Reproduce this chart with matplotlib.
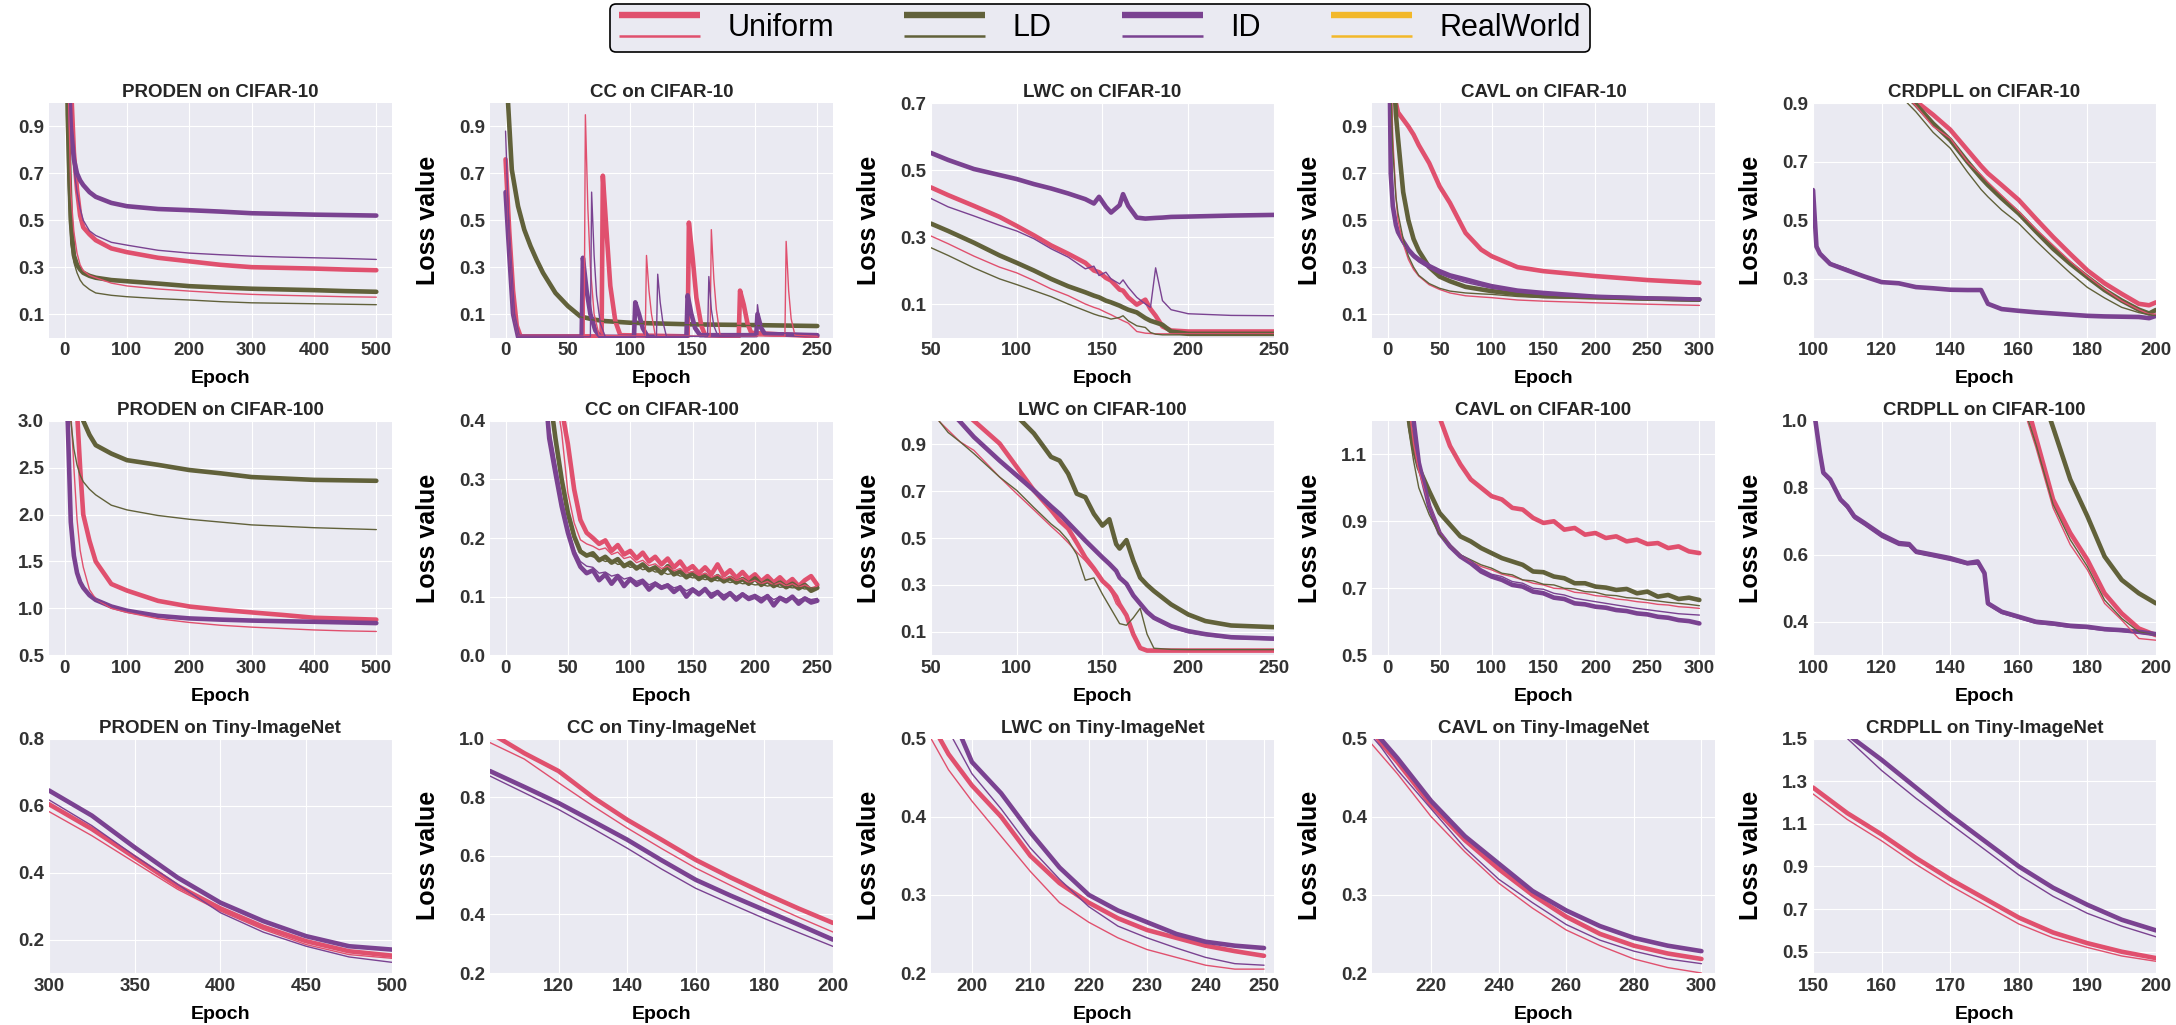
#curvas de perdida por metodo y dataset

import numpy as np
import matplotlib.pyplot as plt
from matplotlib.lines import Line2D
from matplotlib.legend_handler import HandlerBase

# ---------------- datos ----------------
# PRODEN on CIFAR-10
proden10_ep = [0, 5, 10, 15, 20, 25, 30, 40, 50, 75, 100, 150, 200, 250, 300, 350, 400, 450, 500]
proden10_uni = [2.5, 2.0, 1.1, 0.79, 0.63, 0.52, 0.47, 0.44, 0.415, 0.38, 0.364, 0.34, 0.325, 0.31, 0.30, 0.297, 0.294, 0.29, 0.287]
proden10_uni_t = [2.0, 1.2, 0.62, 0.45, 0.36, 0.31, 0.285, 0.265, 0.255, 0.232, 0.22, 0.207, 0.198, 0.19, 0.184, 0.18, 0.177, 0.174, 0.172]
proden10_ld = [2.0, 0.95, 0.5, 0.35, 0.31, 0.29, 0.276, 0.263, 0.255, 0.245, 0.24, 0.23, 0.219, 0.213, 0.208, 0.205, 0.202, 0.198, 0.195]
proden10_ld_t = [2.0, 0.7, 0.40, 0.32, 0.276, 0.245, 0.226, 0.205, 0.19, 0.18, 0.174, 0.166, 0.16, 0.153, 0.148, 0.146, 0.144, 0.142, 0.14]
proden10_id = [2.0, 1.25, 0.9, 0.76, 0.70, 0.67, 0.65, 0.62, 0.60, 0.574, 0.56, 0.548, 0.543, 0.537, 0.53, 0.527, 0.524, 0.522, 0.52]
proden10_id_t = [2.0, 1.2, 0.88, 0.72, 0.62, 0.55, 0.50, 0.455, 0.435, 0.406, 0.394, 0.372, 0.36, 0.353, 0.347, 0.343, 0.34, 0.337, 0.333]

# CC on CIFAR-10 (picos)
cc10_ld_ep = [0, 2, 5, 10, 15, 20, 25, 30, 40, 50, 60, 70, 80, 100, 150, 200, 250]
cc10_ld = [1.3, 1.0, 0.716, 0.56, 0.46, 0.39, 0.33, 0.276, 0.19, 0.134, 0.09, 0.077, 0.07, 0.063, 0.056, 0.053, 0.049]
cc10_ld_t = [1.3, 0.98, 0.70, 0.55, 0.45, 0.38, 0.32, 0.27, 0.185, 0.13, 0.088, 0.075, 0.068, 0.061, 0.054, 0.051, 0.047]
cc10_uni_ep = [0, 3, 6, 9, 12, 77, 78, 81, 84, 88, 92, 146, 147, 150, 153, 157, 160, 187, 188, 191, 194, 197, 250]
cc10_uni = [0.76, 0.45, 0.2, 0.05, 0.005, 0.005, 0.69, 0.45, 0.22, 0.07, 0.01, 0.005, 0.49, 0.34, 0.17, 0.05, 0.01, 0.005, 0.20, 0.14, 0.06, 0.02, 0.005]
cc10_uni_t_ep = [0, 3, 6, 10, 63, 64, 66, 68, 71, 75, 112, 113, 115, 117, 120, 164, 165, 167, 169, 172, 224, 225, 227, 229, 232, 250]
cc10_uni_t = [0.76, 0.4, 0.1, 0.005, 0.005, 0.95, 0.55, 0.3, 0.1, 0.01, 0.005, 0.35, 0.2, 0.1, 0.01, 0.005, 0.46, 0.25, 0.12, 0.01, 0.005, 0.41, 0.2, 0.08, 0.01, 0.005]
cc10_id_ep = [0, 3, 6, 10, 61, 62, 65, 68, 72, 76, 103, 104, 107, 110, 114, 145, 146, 149, 152, 156, 201, 202, 205, 208, 250]
cc10_id = [0.62, 0.35, 0.1, 0.003, 0.003, 0.34, 0.2, 0.1, 0.03, 0.003, 0.003, 0.15, 0.1, 0.04, 0.003, 0.003, 0.18, 0.1, 0.04, 0.01, 0.01, 0.10, 0.04, 0.015, 0.01]
cc10_id_t_ep = [0, 3, 6, 10, 68, 69, 71, 73, 76, 80, 121, 122, 124, 126, 129, 162, 163, 165, 167, 170, 201, 202, 204, 207, 250]
cc10_id_t = [0.88, 0.4, 0.1, 0.003, 0.003, 0.62, 0.35, 0.18, 0.06, 0.003, 0.003, 0.27, 0.15, 0.07, 0.005, 0.005, 0.26, 0.12, 0.05, 0.01, 0.01, 0.14, 0.06, 0.02, 0.015]

# LWC on CIFAR-10
lwc10_ep = [50, 60, 75, 90, 100, 110, 120, 130, 140, 145, 148, 152, 155, 160, 162, 165, 170, 175, 178, 181, 185, 190, 200, 225, 250]
lwc10_id = [0.551, 0.53, 0.503, 0.485, 0.473, 0.458, 0.445, 0.43, 0.413, 0.40, 0.42, 0.39, 0.373, 0.395, 0.428, 0.393, 0.358, 0.355, 0.356, 0.357, 0.358, 0.36, 0.361, 0.364, 0.366]
lwc10_id_t = [0.415, 0.39, 0.363, 0.335, 0.318, 0.295, 0.265, 0.24, 0.205, 0.213, 0.185, 0.195, 0.175, 0.16, 0.172, 0.15, 0.12, 0.10, 0.09, 0.208, 0.11, 0.083, 0.071, 0.066, 0.065]
lwc10_uni = [0.448, 0.425, 0.393, 0.36, 0.333, 0.305, 0.275, 0.25, 0.223, 0.20, 0.195, 0.178, 0.17, 0.143, 0.14, 0.12, 0.098, 0.113, 0.085, 0.065, 0.033, 0.021, 0.018, 0.018, 0.018]
lwc10_uni_t = [0.303, 0.28, 0.243, 0.21, 0.193, 0.17, 0.145, 0.125, 0.1, 0.09, 0.085, 0.075, 0.068, 0.055, 0.05, 0.043, 0.018, 0.013, 0.012, 0.011, 0.011, 0.011, 0.011, 0.011, 0.011]
lwc10_ld = [0.34, 0.318, 0.283, 0.245, 0.223, 0.2, 0.175, 0.153, 0.135, 0.125, 0.12, 0.11, 0.105, 0.095, 0.09, 0.083, 0.075, 0.058, 0.05, 0.045, 0.038, 0.018, 0.011, 0.011, 0.011]
lwc10_ld_t = [0.268, 0.245, 0.208, 0.175, 0.158, 0.14, 0.122, 0.1, 0.08, 0.07, 0.065, 0.06, 0.055, 0.06, 0.065, 0.05, 0.035, 0.03, 0.015, 0.01, 0.008, 0.008, 0.008, 0.008, 0.008]

# CAVL on CIFAR-10
cavl10_ep = [0, 3, 5, 8, 10, 15, 20, 25, 30, 40, 50, 60, 75, 90, 100, 125, 150, 200, 250, 300]
cavl10_uni = [2.0, 1.5, 1.2, 1.0, 0.96, 0.93, 0.9, 0.865, 0.82, 0.744, 0.645, 0.574, 0.446, 0.375, 0.347, 0.30, 0.283, 0.262, 0.245, 0.233]
cavl10_uni_t = [2.0, 1.2, 0.85, 0.6, 0.5, 0.4, 0.333, 0.29, 0.262, 0.225, 0.205, 0.19, 0.178, 0.173, 0.17, 0.16, 0.155, 0.148, 0.142, 0.137]
cavl10_ld = [2.0, 1.5, 1.2, 0.95, 0.85, 0.62, 0.50, 0.42, 0.37, 0.30, 0.26, 0.24, 0.216, 0.205, 0.198, 0.185, 0.177, 0.172, 0.166, 0.162]
cavl10_ld_t = [2.0, 1.1, 0.8, 0.6, 0.53, 0.42, 0.347, 0.3, 0.265, 0.23, 0.21, 0.198, 0.19, 0.186, 0.184, 0.175, 0.17, 0.165, 0.16, 0.155]
cavl10_id = [2.0, 0.7, 0.56, 0.48, 0.45, 0.41, 0.375, 0.35, 0.333, 0.305, 0.283, 0.265, 0.248, 0.23, 0.219, 0.2, 0.19, 0.174, 0.167, 0.162]
cavl10_id_t = [2.0, 0.68, 0.55, 0.47, 0.44, 0.40, 0.365, 0.34, 0.322, 0.295, 0.272, 0.255, 0.235, 0.22, 0.21, 0.195, 0.183, 0.17, 0.163, 0.158]

# CRDPLL on CIFAR-10
crd10_ep = [100, 101, 102, 105, 110, 115, 120, 125, 130, 135, 140, 145, 149, 151, 155, 160, 165, 170, 175, 180, 185, 190, 195, 198, 200]
crd10_id = [0.603, 0.41, 0.386, 0.351, 0.329, 0.308, 0.289, 0.285, 0.272, 0.268, 0.263, 0.262, 0.262, 0.215, 0.197, 0.191, 0.186, 0.182, 0.178, 0.174, 0.172, 0.171, 0.17, 0.166, 0.174]
crd10_id_t = [0.6, 0.42, 0.39, 0.355, 0.335, 0.31, 0.292, 0.282, 0.27, 0.266, 0.262, 0.262, 0.26, 0.212, 0.198, 0.19, 0.185, 0.181, 0.178, 0.175, 0.173, 0.17, 0.168, 0.168, 0.172]
crd10_uni = [1.55, 1.54, 1.52, 1.45, 1.33, 1.2, 1.08, 0.98, 0.906, 0.86, 0.809, 0.74, 0.685, 0.66, 0.62, 0.569, 0.505, 0.443, 0.385, 0.329, 0.285, 0.249, 0.215, 0.21, 0.22]
crd10_uni_t = [1.5, 1.49, 1.47, 1.4, 1.28, 1.15, 1.03, 0.95, 0.89, 0.82, 0.78, 0.70, 0.655, 0.63, 0.585, 0.53, 0.47, 0.415, 0.36, 0.31, 0.265, 0.225, 0.195, 0.18, 0.18]
crd10_ld = [1.5, 1.49, 1.47, 1.4, 1.28, 1.15, 1.03, 0.95, 0.895, 0.83, 0.774, 0.70, 0.645, 0.62, 0.575, 0.523, 0.462, 0.403, 0.352, 0.306, 0.262, 0.226, 0.195, 0.182, 0.194]
crd10_ld_t = [1.45, 1.44, 1.42, 1.35, 1.24, 1.12, 1.0, 0.93, 0.87, 0.80, 0.746, 0.665, 0.605, 0.58, 0.535, 0.489, 0.43, 0.374, 0.32, 0.271, 0.235, 0.203, 0.185, 0.178, 0.174]

# PRODEN on CIFAR-100
proden100_ep = [0, 5, 10, 15, 20, 25, 30, 40, 50, 75, 100, 150, 200, 250, 300, 350, 400, 450, 500]
proden100_ld = [5.0, 4.5, 4.0, 3.6, 3.3, 3.12, 3.0, 2.85, 2.74, 2.65, 2.58, 2.53, 2.475, 2.44, 2.40, 2.385, 2.37, 2.365, 2.36]
proden100_ld_t = [5.0, 3.6, 3.0, 2.7, 2.53, 2.42, 2.35, 2.27, 2.21, 2.10, 2.05, 1.99, 1.95, 1.92, 1.89, 1.875, 1.86, 1.85, 1.84]
proden100_uni = [5.0, 4.5, 4.0, 3.6, 3.1, 2.5, 2.0, 1.72, 1.5, 1.26, 1.19, 1.08, 1.02, 0.985, 0.957, 0.93, 0.90, 0.89, 0.88]
proden100_uni_t = [5.0, 4.0, 3.1, 2.5, 1.95, 1.62, 1.44, 1.2, 1.1, 1.0, 0.957, 0.89, 0.85, 0.82, 0.80, 0.785, 0.77, 0.76, 0.754]
proden100_id = [5.0, 3.0, 1.92, 1.56, 1.38, 1.28, 1.22, 1.14, 1.09, 1.02, 0.975, 0.92, 0.893, 0.88, 0.87, 0.863, 0.857, 0.85, 0.843]
proden100_id_t = [5.0, 3.1, 2.0, 1.6, 1.41, 1.3, 1.23, 1.15, 1.1, 1.03, 0.98, 0.93, 0.90, 0.885, 0.875, 0.868, 0.86, 0.855, 0.85]

# CC on CIFAR-100 (ruidosas)
cc100_ep = [0, 10, 20, 30, 35, 40, 45, 50, 55, 60, 65, 70, 75, 80, 85, 90, 95, 100, 105, 110, 115, 120, 125, 130,
            135, 140, 145, 150, 155, 160, 165, 170, 175, 180, 185, 190, 195, 200, 205, 210, 215, 220, 225, 230,
            235, 240, 245, 250]
cc100_id = [3.0, 1.5, 0.9, 0.5, 0.37, 0.311, 0.254, 0.209, 0.174, 0.151, 0.14, 0.145, 0.128, 0.138, 0.122, 0.135, 0.118,
            0.13, 0.12, 0.126, 0.112, 0.122, 0.115, 0.119, 0.108, 0.116, 0.1, 0.112, 0.104, 0.113, 0.1, 0.108, 0.097,
            0.106, 0.095, 0.104, 0.096, 0.1, 0.092, 0.101, 0.085, 0.098, 0.092, 0.1, 0.088, 0.097, 0.09, 0.093]
cc100_id_t = [3.0, 1.5, 0.9, 0.52, 0.39, 0.33, 0.27, 0.22, 0.18, 0.16, 0.152, 0.15, 0.14, 0.142, 0.135, 0.138, 0.13,
              0.133, 0.126, 0.13, 0.12, 0.125, 0.118, 0.122, 0.115, 0.118, 0.11, 0.115, 0.108, 0.113, 0.106, 0.11, 0.103,
              0.108, 0.1, 0.106, 0.1, 0.104, 0.098, 0.103, 0.095, 0.1, 0.096, 0.101, 0.094, 0.099, 0.095, 0.097]
cc100_ld = [3.0, 1.6, 1.0, 0.6, 0.45, 0.37, 0.30, 0.243, 0.203, 0.177, 0.17, 0.174, 0.162, 0.168, 0.158, 0.164, 0.152,
            0.158, 0.148, 0.155, 0.145, 0.15, 0.14, 0.152, 0.138, 0.143, 0.133, 0.14, 0.13, 0.137, 0.128, 0.135, 0.126,
            0.132, 0.124, 0.13, 0.122, 0.131, 0.12, 0.127, 0.118, 0.124, 0.116, 0.122, 0.114, 0.12, 0.11, 0.115]
cc100_ld_t = [3.0, 1.6, 1.0, 0.59, 0.44, 0.36, 0.29, 0.235, 0.198, 0.18, 0.172, 0.168, 0.165, 0.16, 0.162, 0.155, 0.156,
              0.15, 0.152, 0.146, 0.148, 0.142, 0.143, 0.138, 0.14, 0.135, 0.136, 0.132, 0.133, 0.129, 0.13, 0.127, 0.128,
              0.124, 0.126, 0.122, 0.123, 0.12, 0.121, 0.118, 0.12, 0.116, 0.117, 0.115, 0.116, 0.113, 0.115, 0.114]
cc100_uni = [3.0, 2.0, 1.3, 0.85, 0.68, 0.55, 0.42, 0.36, 0.283, 0.231, 0.209, 0.2, 0.19, 0.196, 0.178, 0.188, 0.172,
             0.178, 0.165, 0.175, 0.16, 0.168, 0.155, 0.165, 0.15, 0.16, 0.145, 0.152, 0.14, 0.15, 0.138, 0.155, 0.136,
             0.145, 0.132, 0.142, 0.13, 0.138, 0.126, 0.135, 0.124, 0.133, 0.122, 0.13, 0.118, 0.128, 0.135, 0.12]
cc100_uni_t = [3.0, 1.9, 1.2, 0.75, 0.58, 0.45, 0.38, 0.277, 0.226, 0.197, 0.19, 0.186, 0.18, 0.183, 0.172, 0.176, 0.165,
               0.168, 0.158, 0.162, 0.153, 0.156, 0.148, 0.152, 0.144, 0.148, 0.14, 0.143, 0.136, 0.14, 0.133, 0.137, 0.13,
               0.134, 0.127, 0.131, 0.124, 0.128, 0.122, 0.126, 0.12, 0.124, 0.118, 0.122, 0.116, 0.12, 0.115, 0.118]

# LWC on CIFAR-100
lwc100_ep = [50, 55, 60, 67, 75, 90, 100, 110, 120, 125, 130, 135, 140, 145, 150, 154, 158, 160, 164, 168, 172, 176, 180, 190, 200, 210, 225, 250]
lwc100_ld = [1.4, 1.35, 1.28, 1.2, 1.14, 1.07, 1.02, 0.946, 0.846, 0.83, 0.774, 0.689, 0.674, 0.603, 0.553, 0.58, 0.474, 0.455, 0.491, 0.403, 0.331, 0.3, 0.274, 0.217, 0.174, 0.146, 0.127, 0.12]
lwc100_id = [1.15, 1.1, 1.05, 0.996, 0.931, 0.83, 0.767, 0.703, 0.635, 0.603, 0.565, 0.527, 0.489, 0.453, 0.417, 0.39, 0.36, 0.331, 0.305, 0.255, 0.22, 0.185, 0.16, 0.124, 0.103, 0.09, 0.077, 0.071]
lwc100_id_t = [1.15, 1.1, 1.05, 0.99, 0.925, 0.825, 0.76, 0.698, 0.63, 0.598, 0.56, 0.522, 0.484, 0.448, 0.412, 0.385, 0.355, 0.326, 0.298, 0.25, 0.214, 0.18, 0.155, 0.118, 0.097, 0.085, 0.072, 0.066]
lwc100_uni = [1.2, 1.15, 1.1, 1.05, 1.0, 0.903, 0.803, 0.703, 0.62, 0.574, 0.54, 0.48, 0.417, 0.37, 0.317, 0.29, 0.25, 0.217, 0.17, 0.089, 0.031, 0.02, 0.02, 0.02, 0.02, 0.02, 0.02, 0.02]
lwc100_uni_t = [1.05, 0.996, 0.96, 0.91, 0.874, 0.76, 0.689, 0.62, 0.55, 0.517, 0.48, 0.44, 0.403, 0.36, 0.317, 0.29, 0.22, 0.203, 0.18, 0.1, 0.03, 0.024, 0.024, 0.024, 0.024, 0.024, 0.024, 0.024]
lwc100_ld_t = [1.05, 0.996, 0.95, 0.91, 0.86, 0.76, 0.703, 0.63, 0.56, 0.531, 0.49, 0.43, 0.32, 0.33, 0.26, 0.21, 0.16, 0.135, 0.128, 0.16, 0.2, 0.09, 0.03, 0.025, 0.024, 0.024, 0.024, 0.024]

# CAVL on CIFAR-100 (ruidosas)
cavl100_ep = [0, 10, 20, 25, 30, 40, 50, 60, 70, 80, 90, 100, 110, 120, 130, 140, 150, 160, 170, 180, 190, 200,
              210, 220, 230, 240, 250, 260, 270, 280, 290, 300]
cavl100_uni = [3.0, 2.4, 1.9, 1.7, 1.55, 1.35, 1.21, 1.125, 1.07, 1.025, 1.0, 0.975, 0.965, 0.94, 0.935, 0.91, 0.895,
               0.9, 0.875, 0.88, 0.86, 0.865, 0.85, 0.855, 0.84, 0.845, 0.832, 0.835, 0.82, 0.825, 0.81, 0.805]
cavl100_uni_t = [3.0, 1.8, 1.25, 1.13, 1.05, 0.95, 0.87, 0.83, 0.8, 0.78, 0.765, 0.755, 0.742, 0.735, 0.725, 0.715,
                 0.71, 0.7, 0.698, 0.688, 0.685, 0.678, 0.675, 0.668, 0.665, 0.66, 0.657, 0.652, 0.65, 0.645, 0.643, 0.64]
cavl100_ld = [3.0, 1.8, 1.21, 1.12, 1.06, 0.99, 0.925, 0.89, 0.855, 0.84, 0.82, 0.805, 0.79, 0.78, 0.77, 0.75, 0.748,
              0.735, 0.73, 0.715, 0.715, 0.705, 0.702, 0.695, 0.698, 0.685, 0.69, 0.675, 0.68, 0.668, 0.672, 0.665]
cavl100_ld_t = [3.0, 1.75, 1.18, 1.08, 1.0, 0.92, 0.86, 0.83, 0.8, 0.785, 0.77, 0.76, 0.745, 0.74, 0.725, 0.722, 0.712,
                0.71, 0.7, 0.698, 0.69, 0.688, 0.68, 0.678, 0.672, 0.67, 0.665, 0.662, 0.658, 0.655, 0.652, 0.648]
cavl100_id = [3.0, 1.8, 1.3, 1.2, 1.075, 0.945, 0.865, 0.825, 0.795, 0.775, 0.75, 0.735, 0.725, 0.71, 0.705, 0.69,
              0.685, 0.672, 0.668, 0.655, 0.652, 0.645, 0.642, 0.635, 0.632, 0.625, 0.622, 0.615, 0.612, 0.605, 0.602, 0.595]
cavl100_id_t = [3.0, 1.8, 1.3, 1.19, 1.07, 0.95, 0.87, 0.83, 0.8, 0.782, 0.758, 0.742, 0.735, 0.72, 0.715, 0.7, 0.697,
                0.685, 0.68, 0.67, 0.665, 0.66, 0.655, 0.65, 0.645, 0.64, 0.636, 0.632, 0.628, 0.624, 0.622, 0.62]

# CRDPLL on CIFAR-100
crd100_ep = [100, 102, 103, 105, 108, 110, 112, 115, 120, 125, 128, 130, 135, 140, 145, 148, 150, 151, 155, 160, 165, 170, 175, 180, 185, 190, 195, 200]
crd100_id = [1.05, 0.905, 0.845, 0.825, 0.765, 0.745, 0.715, 0.695, 0.66, 0.635, 0.632, 0.61, 0.6, 0.59, 0.575, 0.58, 0.545, 0.455, 0.43, 0.415, 0.40, 0.395, 0.388, 0.385, 0.378, 0.375, 0.37, 0.363]
crd100_id_t = [1.04, 0.9, 0.84, 0.818, 0.76, 0.738, 0.708, 0.688, 0.652, 0.628, 0.625, 0.604, 0.594, 0.583, 0.57, 0.572, 0.54, 0.45, 0.425, 0.41, 0.395, 0.39, 0.383, 0.38, 0.374, 0.371, 0.366, 0.36]
crd100_uni = [3.15, 3.1, 3.07, 3.0, 2.93, 2.87, 2.8, 2.7, 2.55, 2.38, 2.27, 2.2, 2.0, 1.85, 1.67, 1.57, 1.5, 1.46, 1.32, 1.14, 0.95, 0.765, 0.665, 0.585, 0.485, 0.425, 0.38, 0.36]
crd100_uni_t = [3.1, 3.05, 3.0, 2.95, 2.88, 2.82, 2.75, 2.65, 2.5, 2.33, 2.22, 2.15, 1.95, 1.8, 1.62, 1.52, 1.45, 1.41, 1.27, 1.08, 0.92, 0.74, 0.63, 0.555, 0.455, 0.405, 0.35, 0.345]
crd100_ld = [3.3, 3.25, 3.22, 3.15, 3.08, 3.02, 2.95, 2.85, 2.7, 2.53, 2.42, 2.35, 2.15, 2.0, 1.82, 1.72, 1.65, 1.61, 1.47, 1.29, 1.13, 0.98, 0.825, 0.715, 0.595, 0.525, 0.485, 0.455]
crd100_ld_t = [3.1, 3.05, 3.0, 2.95, 2.88, 2.82, 2.75, 2.65, 2.5, 2.33, 2.22, 2.15, 1.95, 1.8, 1.62, 1.52, 1.45, 1.41, 1.27, 1.09, 0.93, 0.75, 0.645, 0.565, 0.465, 0.41, 0.37, 0.36]

# PRODEN on Tiny-ImageNet
prodentiny_ep = [300, 325, 350, 375, 400, 425, 450, 475, 500]
prodentiny_uni = [0.604, 0.53, 0.445, 0.36, 0.293, 0.238, 0.195, 0.165, 0.152]
prodentiny_uni_t = [0.582, 0.51, 0.43, 0.35, 0.285, 0.23, 0.185, 0.155, 0.144]
prodentiny_id = [0.645, 0.57, 0.475, 0.385, 0.31, 0.255, 0.21, 0.18, 0.17]
prodentiny_id_t = [0.617, 0.54, 0.45, 0.365, 0.28, 0.222, 0.18, 0.148, 0.132]

# CC on Tiny-ImageNet
cctiny_ep = [100, 110, 120, 130, 140, 150, 160, 170, 180, 190, 200]
cctiny_uni = [1.02, 0.95, 0.889, 0.80, 0.723, 0.655, 0.586, 0.527, 0.472, 0.42, 0.371]
cctiny_uni_t = [0.986, 0.93, 0.849, 0.77, 0.695, 0.625, 0.558, 0.5, 0.443, 0.39, 0.34]
cctiny_id = [0.889, 0.835, 0.78, 0.718, 0.655, 0.585, 0.518, 0.465, 0.415, 0.365, 0.314]
cctiny_id_t = [0.872, 0.815, 0.758, 0.693, 0.626, 0.555, 0.489, 0.437, 0.386, 0.338, 0.291]

# LWC on Tiny-ImageNet
lwctiny_ep = [193, 196, 200, 205, 210, 215, 220, 225, 230, 235, 240, 245, 250]
lwctiny_uni = [0.52, 0.48, 0.44, 0.40, 0.35, 0.315, 0.29, 0.27, 0.255, 0.245, 0.235, 0.228, 0.222]
lwctiny_uni_t = [0.5, 0.46, 0.42, 0.375, 0.33, 0.29, 0.265, 0.245, 0.23, 0.22, 0.21, 0.205, 0.205]
lwctiny_id = [0.6, 0.54, 0.47, 0.43, 0.38, 0.335, 0.30, 0.28, 0.265, 0.25, 0.24, 0.235, 0.232]
lwctiny_id_t = [0.56, 0.51, 0.455, 0.41, 0.36, 0.32, 0.285, 0.26, 0.245, 0.232, 0.22, 0.212, 0.21]

# CAVL on Tiny-ImageNet
cavltiny_ep = [201, 205, 210, 220, 230, 240, 250, 260, 270, 280, 290, 300]
cavltiny_uni = [0.52, 0.495, 0.47, 0.415, 0.37, 0.333, 0.3, 0.272, 0.25, 0.235, 0.225, 0.218]
cavltiny_uni_t = [0.5, 0.48, 0.455, 0.4, 0.355, 0.315, 0.283, 0.255, 0.235, 0.218, 0.207, 0.2]
cavltiny_id = [0.53, 0.5, 0.475, 0.42, 0.375, 0.34, 0.305, 0.28, 0.26, 0.245, 0.235, 0.228]
cavltiny_id_t = [0.51, 0.49, 0.46, 0.41, 0.36, 0.32, 0.29, 0.262, 0.242, 0.228, 0.218, 0.212]

# CRDPLL on Tiny-ImageNet
crdtiny_ep = [150, 155, 160, 165, 170, 175, 180, 185, 190, 195, 200]
crdtiny_uni = [1.27, 1.15, 1.05, 0.94, 0.84, 0.75, 0.66, 0.59, 0.54, 0.5, 0.47]
crdtiny_uni_t = [1.24, 1.12, 1.02, 0.91, 0.81, 0.72, 0.63, 0.565, 0.52, 0.48, 0.455]
crdtiny_id = [1.7, 1.52, 1.4, 1.27, 1.14, 1.02, 0.9, 0.8, 0.72, 0.65, 0.6]
crdtiny_id_t = [1.65, 1.5, 1.35, 1.22, 1.1, 0.98, 0.86, 0.76, 0.68, 0.62, 0.57]

labels = ['Uniform', 'LD', 'ID', 'RealWorld']
colores = {'uni': '#E0506E', 'ld': '#61613A', 'id': '#7A4291', 'rw': '#F2B82A'}

# cada panel: titulo, limites, ticks, curvas (metodo, grueso?, x, y)
panels = [
    ('PRODEN on CIFAR-10', (-25, 525), np.arange(0, 501, 100), (0, 1.0), [0.1, 0.3, 0.5, 0.7, 0.9],
     [('uni', 1, proden10_ep, proden10_uni), ('ld', 1, proden10_ep, proden10_ld), ('id', 1, proden10_ep, proden10_id),
      ('uni', 0, proden10_ep, proden10_uni_t), ('ld', 0, proden10_ep, proden10_ld_t), ('id', 0, proden10_ep, proden10_id_t)]),
    ('CC on CIFAR-10', (-12.5, 262.5), np.arange(0, 251, 50), (0, 1.0), [0.1, 0.3, 0.5, 0.7, 0.9],
     [('ld', 1, cc10_ld_ep, cc10_ld), ('ld', 0, cc10_ld_ep, cc10_ld_t),
      ('uni', 1, cc10_uni_ep, cc10_uni), ('uni', 0, cc10_uni_t_ep, cc10_uni_t),
      ('id', 1, cc10_id_ep, cc10_id), ('id', 0, cc10_id_t_ep, cc10_id_t)]),
    ('LWC on CIFAR-10', (50, 250), np.arange(50, 251, 50), (0, 0.7), [0.1, 0.3, 0.5, 0.7],
     [('uni', 1, lwc10_ep, lwc10_uni), ('ld', 1, lwc10_ep, lwc10_ld), ('id', 1, lwc10_ep, lwc10_id),
      ('uni', 0, lwc10_ep, lwc10_uni_t), ('ld', 0, lwc10_ep, lwc10_ld_t), ('id', 0, lwc10_ep, lwc10_id_t)]),
    ('CAVL on CIFAR-10', (-15, 315), np.arange(0, 301, 50), (0, 1.0), [0.1, 0.3, 0.5, 0.7, 0.9],
     [('uni', 1, cavl10_ep, cavl10_uni), ('ld', 1, cavl10_ep, cavl10_ld), ('id', 1, cavl10_ep, cavl10_id),
      ('uni', 0, cavl10_ep, cavl10_uni_t), ('ld', 0, cavl10_ep, cavl10_ld_t), ('id', 0, cavl10_ep, cavl10_id_t)]),
    ('CRDPLL on CIFAR-10', (100, 200), np.arange(100, 201, 20), (0.1, 0.9), [0.3, 0.5, 0.7, 0.9],
     [('uni', 1, crd10_ep, crd10_uni), ('ld', 1, crd10_ep, crd10_ld), ('id', 1, crd10_ep, crd10_id),
      ('uni', 0, crd10_ep, crd10_uni_t), ('ld', 0, crd10_ep, crd10_ld_t), ('id', 0, crd10_ep, crd10_id_t)]),
    ('PRODEN on CIFAR-100', (-25, 525), np.arange(0, 501, 100), (0.5, 3.0), [0.5, 1.0, 1.5, 2.0, 2.5, 3.0],
     [('uni', 1, proden100_ep, proden100_uni), ('ld', 1, proden100_ep, proden100_ld), ('id', 1, proden100_ep, proden100_id),
      ('uni', 0, proden100_ep, proden100_uni_t), ('ld', 0, proden100_ep, proden100_ld_t), ('id', 0, proden100_ep, proden100_id_t)]),
    ('CC on CIFAR-100', (-12.5, 262.5), np.arange(0, 251, 50), (0, 0.4), [0.0, 0.1, 0.2, 0.3, 0.4],
     [('uni', 1, cc100_ep, cc100_uni), ('ld', 1, cc100_ep, cc100_ld), ('id', 1, cc100_ep, cc100_id),
      ('uni', 0, cc100_ep, cc100_uni_t), ('ld', 0, cc100_ep, cc100_ld_t), ('id', 0, cc100_ep, cc100_id_t)]),
    ('LWC on CIFAR-100', (50, 250), np.arange(50, 251, 50), (0, 1.0), [0.1, 0.3, 0.5, 0.7, 0.9],
     [('uni', 1, lwc100_ep, lwc100_uni), ('ld', 1, lwc100_ep, lwc100_ld), ('id', 1, lwc100_ep, lwc100_id),
      ('uni', 0, lwc100_ep, lwc100_uni_t), ('ld', 0, lwc100_ep, lwc100_ld_t), ('id', 0, lwc100_ep, lwc100_id_t)]),
    ('CAVL on CIFAR-100', (-15, 315), np.arange(0, 301, 50), (0.5, 1.2), [0.5, 0.7, 0.9, 1.1],
     [('uni', 1, cavl100_ep, cavl100_uni), ('ld', 1, cavl100_ep, cavl100_ld), ('id', 1, cavl100_ep, cavl100_id),
      ('uni', 0, cavl100_ep, cavl100_uni_t), ('ld', 0, cavl100_ep, cavl100_ld_t), ('id', 0, cavl100_ep, cavl100_id_t)]),
    ('CRDPLL on CIFAR-100', (100, 200), np.arange(100, 201, 20), (0.3, 1.0), [0.4, 0.6, 0.8, 1.0],
     [('uni', 1, crd100_ep, crd100_uni), ('ld', 1, crd100_ep, crd100_ld), ('id', 1, crd100_ep, crd100_id),
      ('uni', 0, crd100_ep, crd100_uni_t), ('ld', 0, crd100_ep, crd100_ld_t), ('id', 0, crd100_ep, crd100_id_t)]),
    ('PRODEN on Tiny-ImageNet', (300, 500), np.arange(300, 501, 50), (0.1, 0.8), [0.2, 0.4, 0.6, 0.8],
     [('uni', 1, prodentiny_ep, prodentiny_uni), ('id', 1, prodentiny_ep, prodentiny_id),
      ('uni', 0, prodentiny_ep, prodentiny_uni_t), ('id', 0, prodentiny_ep, prodentiny_id_t)]),
    ('CC on Tiny-ImageNet', (100, 200), np.arange(120, 201, 20), (0.2, 1.0), [0.2, 0.4, 0.6, 0.8, 1.0],
     [('uni', 1, cctiny_ep, cctiny_uni), ('id', 1, cctiny_ep, cctiny_id),
      ('uni', 0, cctiny_ep, cctiny_uni_t), ('id', 0, cctiny_ep, cctiny_id_t)]),
    ('LWC on Tiny-ImageNet', (193, 251.7), np.arange(200, 251, 10), (0.2, 0.5), [0.2, 0.3, 0.4, 0.5],
     [('uni', 1, lwctiny_ep, lwctiny_uni), ('id', 1, lwctiny_ep, lwctiny_id),
      ('uni', 0, lwctiny_ep, lwctiny_uni_t), ('id', 0, lwctiny_ep, lwctiny_id_t)]),
    ('CAVL on Tiny-ImageNet', (202.5, 304), np.arange(220, 301, 20), (0.2, 0.5), [0.2, 0.3, 0.4, 0.5],
     [('uni', 1, cavltiny_ep, cavltiny_uni), ('id', 1, cavltiny_ep, cavltiny_id),
      ('uni', 0, cavltiny_ep, cavltiny_uni_t), ('id', 0, cavltiny_ep, cavltiny_id_t)]),
    ('CRDPLL on Tiny-ImageNet', (150, 200), np.arange(150, 201, 10), (0.4, 1.5), [0.5, 0.7, 0.9, 1.1, 1.3, 1.5],
     [('uni', 1, crdtiny_ep, crdtiny_uni), ('id', 1, crdtiny_ep, crdtiny_id),
      ('uni', 0, crdtiny_ep, crdtiny_uni_t), ('id', 0, crdtiny_ep, crdtiny_id_t)]),
]


class DosLineas(HandlerBase):
    # linea gruesa arriba, fina abajo
    def create_artists(self, legend, orig_handle, xdescent, ydescent, width, height, fontsize, trans):
        c = orig_handle.get_color()
        x = [-xdescent, width - xdescent]
        l1 = Line2D(x, [height * 0.95 - ydescent] * 2, color=c, lw=4.6, solid_capstyle='butt')
        l2 = Line2D(x, [height * 0.0 - ydescent] * 2, color=c, lw=1.8, solid_capstyle='butt')
        l1.set_transform(trans)
        l2.set_transform(trans)
        return [l1, l2]


plt.style.use('seaborn-v0_8-darkgrid')
plt.rcParams['font.family'] = ['Liberation Sans', 'DejaVu Sans']
plt.rcParams['font.weight'] = 'bold'

fig = plt.figure(figsize=(21.76, 10.25), dpi=100)
gs = fig.add_gridspec(3, 5, left=0.0225, right=0.9908, top=0.8995, bottom=0.0507,
                      wspace=0.286, hspace=0.355)

for i, (titulo, xl, xt, yl, yt, curvas) in enumerate(panels):
    ax = fig.add_subplot(gs[i // 5, i % 5])
    for metodo, grueso, x, y in curvas:
        ax.plot(x, y, color=colores[metodo], lw=3.3 if grueso else 1.0, zorder=2 if grueso else 3)
    ax.set_xlim(*xl)
    ax.set_ylim(*yl)
    ax.set_xticks(xt)
    ax.set_yticks(yt)
    ax.tick_params(labelsize=13.5, colors='.2')
    for lab in ax.get_xticklabels() + ax.get_yticklabels():
        lab.set_fontweight('bold')
    ax.set_title(titulo, fontsize=13.5, fontweight='bold', color='.15', pad=4)
    ax.set_xlabel('Epoch', fontsize=14, fontweight='bold', color='black', labelpad=8)
    if i % 5 != 0:
        ax.set_ylabel('Loss value', fontsize=18, fontweight='bold', color='black', labelpad=14)

handles = [Line2D([], [], color=colores[k]) for k in ['uni', 'ld', 'id', 'rw']]
leg = fig.legend(handles, labels, handler_map={Line2D: DosLineas()}, loc='center',
                 bbox_to_anchor=(0.5055, 0.973), ncol=4, frameon=True,
                 prop={'size': 22, 'weight': 'normal'}, handlelength=2.65, handletextpad=0.9,
                 columnspacing=2.3, borderpad=0.3, fancybox=True)
leg.get_frame().set_edgecolor('black')
leg.get_frame().set_linewidth(1.2)
leg.get_frame().set_facecolor('#EAEAF2')
leg.get_frame().set_alpha(1)
for t in leg.get_texts():
    t.set_color('black')

fig.savefig('out.png', dpi=100)
